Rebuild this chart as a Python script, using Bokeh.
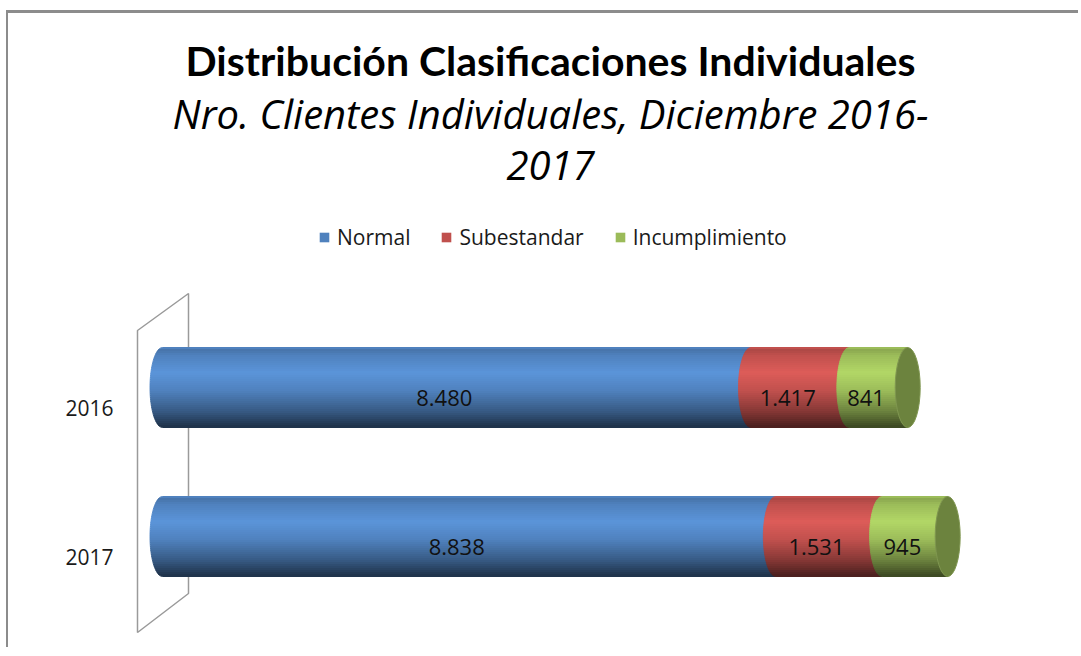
import numpy as np
from bokeh.plotting import figure
from bokeh.models import (Range1d, FixedTicker, Label, Legend, LegendItem)
from bokeh.core.properties import value
from bokeh.embed import file_html
from bokeh.resources import INLINE

# ---------------- data ----------------
years = ["2016", "2017"]
series = ["Normal", "Subestandar", "Incumplimiento"]
normal = [8480, 8838]
subestandar = [1417, 1531]
incumplimiento = [841, 945]
colors = ["#4F81BD", "#C0504D", "#9BBB59"]
cap_color = "#6C833E"

title = "Distribución Clasificaciones Individuales"
subtitle1 = "Nro. Clientes Individuales, Diciembre 2016-"
subtitle2 = "2017"

# ---------------- layout (page pixel mapping) ----------------
CX0, CY0 = 8, 13                       # page position of the canvas
W, H = 1072, 637
FRAME_L, FRAME_R = 130, CX0 + W        # page px
FRAME_T, FRAME_B = CY0, CY0 + H
X0_PX, XSCALE = 162.0, 0.0694          # page px of value 0, px per unit
Y0_PX, YSCALE = 556.0, 149.0           # page px of position 0, px per unit

def px_x(px):
    return (px - X0_PX) / XSCALE

def px_y(py):
    return (Y0_PX - py) / YSCALE

x_start, x_end = px_x(FRAME_L), px_x(FRAME_R)
y_start, y_end = px_y(FRAME_B), px_y(FRAME_T)

p = figure(width=W, height=H, output_backend="svg", toolbar_location=None,
           x_range=Range1d(x_start, x_end), y_range=Range1d(y_start, y_end),
           x_axis_location=None,
           min_border_left=FRAME_L - CX0, min_border_right=0,
           min_border_top=0, min_border_bottom=0)
p.grid.visible = False
p.outline_line_color = None
p.background_fill_color = "white"
p.border_fill_color = "white"
p.styles = {"margin-left": "6px", "margin-top": "10px",
            "border-top": "3px solid #8C8C8C", "border-left": "2px solid #8C8C8C"}

# y positions: 2016 -> 1, 2017 -> 0
ypos = {"2016": 1.0, "2017": 0.0}
p.yaxis.ticker = FixedTicker(ticks=[ypos[y] for y in years])
p.yaxis.major_label_overrides = {ypos[y]: y for y in years}
p.yaxis.axis_line_color = None
p.yaxis.major_tick_line_color = None
p.yaxis.minor_tick_line_color = None
p.yaxis.major_tick_out = 0
p.yaxis.major_label_standoff = 17
p.yaxis.major_label_text_font = "Open Sans"
p.yaxis.major_label_text_font_size = "21px"
p.yaxis.major_label_text_color = "#1a1a1a"

# ---------------- 3D wall (decoration) ----------------
wall_x = [px_x(137), px_x(188), px_x(188), px_x(137)]
wall_y = [px_y(330), px_y(293), px_y(593), px_y(632)]
p.patch(wall_x, wall_y, fill_color=None, line_color="#9A9A9A", line_width=1.5)

# ---------------- cylinders ----------------
bar_offset = 20 / YSCALE          # bars sit above label position (perspective)
half_h = 40 / YSCALE              # half bar height
cap_a = 12.5 / XSCALE             # horizontal half-width of cylinder ellipse
N = 40

stops_t = [0.0, 0.04, 0.10, 0.32, 0.55, 0.8, 1.0]
stops_f = [1.05, 0.9, 1.0, 1.15, 1.0, 0.7, 0.38]

def shade(hexc, f):
    r, g, b = int(hexc[1:3], 16), int(hexc[3:5], 16), int(hexc[5:7], 16)
    c = [min(255, int(round(v * f))) for v in (r, g, b)]
    return "#%02x%02x%02x" % tuple(c)

def left_curve(s, y, yc):
    u = np.clip((y - yc) / half_h, -1, 1)
    return s - cap_a * np.sqrt(1 - u * u)

values = [normal, subestandar, incumplimiento]
lab_x, lab_y, lab_t = [], [], []
for i, yr in enumerate(years):
    yc = ypos[yr] + bar_offset
    start = 0.0
    for k, ser in enumerate(series):
        v = values[k][i]
        end = start + v
        xs, ys, cs = [], [], []
        for j in range(N):
            t0, t1 = j / N, (j + 1) / N
            ya = yc + half_h - 2 * half_h * t0
            yb = yc + half_h - 2 * half_h * t1
            yy = np.linspace(ya, yb, 4)
            lx = [left_curve(start, q, yc) for q in yy]
            xs.append([end] + lx + [end])
            ys.append([ya] + list(yy) + [yb])
            f = np.interp((t0 + t1) / 2, stops_t, stops_f)
            cs.append(shade(colors[k], f))
        p.patches(xs, ys, fill_color=cs, line_color=cs, line_width=1)
        lab_x.append((start + end) / 2 - cap_a)
        lab_y.append(ypos[yr] + bar_offset - 10 / YSCALE)
        lab_t.append(f"{v:,}".replace(",", "."))
        start = end
    # end face of the cylinder
    p.ellipse(x=[start], y=[yc], width=2 * cap_a, height=2 * half_h,
              fill_color=cap_color, line_color="#7f9650", line_width=1)

p.text(x=lab_x, y=lab_y, text=lab_t, text_align="center", text_baseline="middle",
       text_font=value("Open Sans"), text_font_size="22px", text_color="#111111")

# ---------------- titles ----------------
cx = px_x(550)
p.add_layout(Label(x=cx, y=px_y(60), text=title, text_align="center",
                   text_baseline="alphabetic", text_font="Lato",
                   text_font_style="bold", text_font_size="41px", text_color="black"))
p.add_layout(Label(x=cx, y=px_y(113), text=subtitle1, text_align="center",
                   text_baseline="alphabetic", text_font="Open Sans",
                   text_font_style="italic", text_font_size="40px", text_color="black"))
p.add_layout(Label(x=cx, y=px_y(165), text=subtitle2, text_align="center",
                   text_baseline="alphabetic", text_font="Open Sans",
                   text_font_style="italic", text_font_size="40px", text_color="black"))

# ---------------- legend ----------------
items = []
for k, ser in enumerate(series):
    r = p.quad(left=[np.nan], right=[np.nan], top=[np.nan], bottom=[np.nan],
               fill_color=colors[k], line_color=None)
    items.append(LegendItem(label=ser, renderers=[r]))
leg = Legend(items=items, orientation="horizontal",
             location=(318 - FRAME_L, FRAME_B - 251),
             glyph_width=12, glyph_height=12, label_standoff=7, spacing=30,
             padding=0, margin=0, border_line_color=None, background_fill_alpha=0,
             label_text_font="Open Sans", label_text_font_size="21px",
             label_text_color="#1a1a1a")
p.add_layout(leg)

open("out.html", "w").write(file_html(p, INLINE))
